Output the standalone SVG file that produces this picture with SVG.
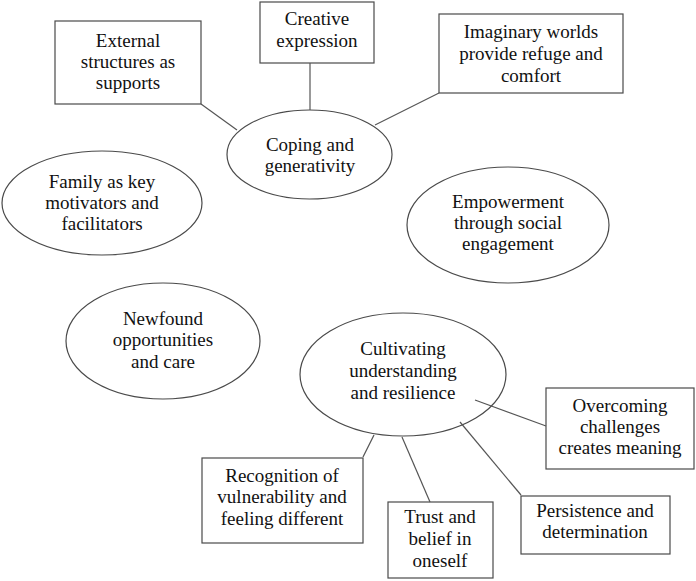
<svg xmlns="http://www.w3.org/2000/svg" width="696" height="581" viewBox="0 0 696 581">
<style>
.n{fill:#fff;stroke:#4a4a4a;stroke-width:1.2}
.c line{stroke:#555;stroke-width:1.2}
text{font-family:"Liberation Serif","Times New Roman",serif;font-size:19px;fill:#111;text-anchor:middle}
</style>
<rect width="696" height="581" fill="#fff"/>
<g id="external"><rect class="n" x="55" y="21" width="146" height="83"/>
<text x="128" y="47">External</text><text x="128" y="68">structures as</text><text x="128" y="89">supports</text></g>
<g id="creative"><rect class="n" x="260" y="2" width="114" height="61"/>
<text x="317" y="25">Creative</text><text x="317" y="47">expression</text></g>
<g id="imaginary"><rect class="n" x="439" y="14" width="184" height="79"/>
<text x="531" y="38">Imaginary worlds</text><text x="531" y="60">provide refuge and</text><text x="531" y="82">comfort</text></g>
<g id="coping"><ellipse class="n" cx="309.5" cy="154.5" rx="82.5" ry="44.5"/>
<text x="310" y="151">Coping and</text><text x="310" y="172">generativity</text></g>
<g id="family"><ellipse class="n" cx="102" cy="203" rx="100" ry="52"/>
<text x="102" y="188">Family as key</text><text x="102" y="209">motivators and</text><text x="102" y="230">facilitators</text></g>
<g id="empowerment"><ellipse class="n" cx="508" cy="225" rx="101" ry="58"/>
<text x="508" y="208">Empowerment</text><text x="508" y="229">through social</text><text x="508" y="250">engagement</text></g>
<g id="newfound"><ellipse class="n" cx="163" cy="341" rx="97" ry="58"/>
<text x="163" y="325">Newfound</text><text x="163" y="346">opportunities</text><text x="163" y="368">and care</text></g>
<g id="cultivating"><ellipse class="n" cx="403" cy="374.5" rx="103" ry="61.5"/>
<text x="403" y="355">Cultivating</text><text x="403" y="377">understanding</text><text x="403" y="399">and resilience</text></g>
<g id="overcoming"><rect class="n" x="546" y="388" width="148" height="81"/>
<text x="620" y="412">Overcoming</text><text x="620" y="433">challenges</text><text x="620" y="454">creates meaning</text></g>
<g id="recognition"><rect class="n" x="202" y="458" width="161" height="85"/>
<text x="282" y="482">Recognition of</text><text x="282" y="503">vulnerability and</text><text x="282" y="525">feeling different</text></g>
<g id="trust"><rect class="n" x="388" y="502" width="105" height="76"/>
<text x="440" y="523">Trust and</text><text x="440" y="545">belief in</text><text x="440" y="567">oneself</text></g>
<g id="persistence"><rect class="n" x="521" y="496" width="149" height="58"/>
<text x="595" y="517">Persistence and</text><text x="595" y="538">determination</text></g>
<g class="c" id="connectors">
<line x1="201" y1="104" x2="237" y2="130"/>
<line x1="310" y1="63" x2="310" y2="110"/>
<line x1="439" y1="93" x2="375" y2="125"/>
<line x1="363" y1="457" x2="374" y2="435"/>
<line x1="402" y1="437" x2="430" y2="502"/>
<line x1="475" y1="400" x2="546" y2="426"/>
<line x1="460" y1="422" x2="521" y2="495"/>
</g>
</svg>
